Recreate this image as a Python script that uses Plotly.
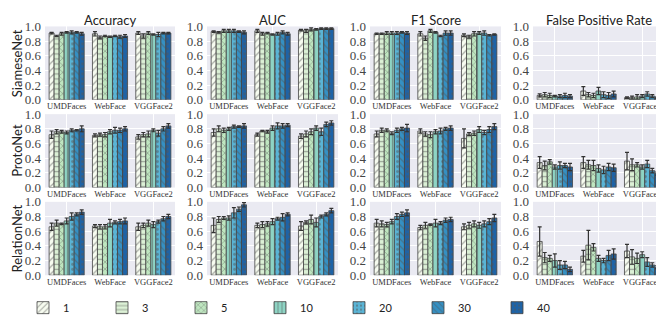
import plotly.graph_objects as go
from plotly.subplots import make_subplots

datasets = ["UMDFaces", "WebFace", "VGGFace2"]
shots = ["1", "3", "5", "10", "20", "30", "40"]
metrics = ["Accuracy", "AUC", "F1 Score", "False Positive Rate"]
models = ["SiameseNet", "ProtoNet", "RelationNet"]

# values[model][metric] -> per shot list of 3 dataset values
siamese_acc = [[0.91, 0.90, 0.91], [0.87, 0.85, 0.87], [0.90, 0.87, 0.91], [0.92, 0.86, 0.89], [0.92, 0.87, 0.89], [0.92, 0.86, 0.91], [0.90, 0.87, 0.91]]
siamese_acc_err = [[0.01, 0.03, 0.02], [0.01, 0.02, 0.03], [0.02, 0.01, 0.02], [0.01, 0.01, 0.01], [0.02, 0.01, 0.03], [0.01, 0.02, 0.01], [0.02, 0.02, 0.01]]
siamese_auc = [[0.93, 0.94, 0.95], [0.92, 0.90, 0.94], [0.94, 0.91, 0.96], [0.94, 0.89, 0.96], [0.94, 0.90, 0.97], [0.93, 0.92, 0.97], [0.92, 0.90, 0.97]]
siamese_auc_err = [[0.01, 0.02, 0.01], [0.01, 0.02, 0.02], [0.02, 0.01, 0.02], [0.02, 0.01, 0.01], [0.02, 0.02, 0.01], [0.01, 0.02, 0.01], [0.02, 0.02, 0.01]]
siamese_f1 = [[0.90, 0.90, 0.88], [0.90, 0.84, 0.86], [0.91, 0.94, 0.90], [0.91, 0.92, 0.91], [0.91, 0.87, 0.91], [0.92, 0.91, 0.88], [0.91, 0.91, 0.89]]
siamese_f1_err = [[0.01, 0.03, 0.02], [0.01, 0.03, 0.02], [0.02, 0.02, 0.03], [0.02, 0.01, 0.02], [0.02, 0.01, 0.03], [0.01, 0.03, 0.01], [0.02, 0.03, 0.01]]
siamese_fpr = [[0.06, 0.12, 0.03], [0.07, 0.07, 0.03], [0.06, 0.06, 0.04], [0.05, 0.12, 0.05], [0.05, 0.07, 0.08], [0.06, 0.06, 0.05], [0.05, 0.08, 0.03]]
siamese_fpr_err = [[0.02, 0.06, 0.01], [0.03, 0.03, 0.02], [0.03, 0.03, 0.03], [0.01, 0.05, 0.02], [0.02, 0.04, 0.03], [0.03, 0.04, 0.02], [0.02, 0.04, 0.01]]

proto_acc = [[0.72, 0.71, 0.69], [0.76, 0.72, 0.72], [0.76, 0.72, 0.73], [0.75, 0.76, 0.78], [0.78, 0.78, 0.74], [0.78, 0.78, 0.80], [0.80, 0.80, 0.84]]
proto_acc_err = [[0.05, 0.02, 0.03], [0.03, 0.02, 0.03], [0.02, 0.03, 0.04], [0.02, 0.03, 0.02], [0.02, 0.04, 0.04], [0.01, 0.03, 0.03], [0.04, 0.03, 0.03]]
proto_auc = [[0.75, 0.72, 0.70], [0.80, 0.77, 0.73], [0.78, 0.76, 0.76], [0.80, 0.81, 0.81], [0.83, 0.84, 0.76], [0.83, 0.84, 0.86], [0.84, 0.85, 0.88]]
proto_auc_err = [[0.05, 0.02, 0.03], [0.04, 0.01, 0.04], [0.03, 0.02, 0.04], [0.02, 0.03, 0.03], [0.02, 0.04, 0.05], [0.01, 0.03, 0.03], [0.03, 0.02, 0.03]]
proto_f1 = [[0.73, 0.77, 0.67], [0.78, 0.73, 0.73], [0.78, 0.72, 0.74], [0.74, 0.76, 0.79], [0.78, 0.77, 0.75], [0.80, 0.80, 0.79], [0.81, 0.81, 0.83]]
proto_f1_err = [[0.04, 0.03, 0.13], [0.03, 0.03, 0.02], [0.02, 0.04, 0.03], [0.02, 0.03, 0.04], [0.03, 0.04, 0.03], [0.02, 0.02, 0.04], [0.05, 0.03, 0.04]]
proto_fpr = [[0.34, 0.34, 0.36], [0.30, 0.31, 0.31], [0.35, 0.30, 0.31], [0.28, 0.26, 0.28], [0.30, 0.24, 0.32], [0.30, 0.28, 0.23], [0.28, 0.27, 0.19]]
proto_fpr_err = [[0.08, 0.08, 0.12], [0.06, 0.06, 0.08], [0.03, 0.07, 0.03], [0.03, 0.05, 0.03], [0.05, 0.05, 0.05], [0.03, 0.05, 0.03], [0.05, 0.05, 0.02]]

relation_acc = [[0.66, 0.67, 0.66], [0.71, 0.66, 0.68], [0.70, 0.66, 0.71], [0.74, 0.71, 0.69], [0.80, 0.72, 0.73], [0.83, 0.73, 0.77], [0.86, 0.74, 0.80]]
relation_acc_err = [[0.05, 0.02, 0.05], [0.04, 0.03, 0.03], [0.01, 0.03, 0.04], [0.04, 0.05, 0.04], [0.05, 0.02, 0.02], [0.02, 0.03, 0.03], [0.03, 0.04, 0.03]]
relation_auc = [[0.68, 0.68, 0.67], [0.76, 0.69, 0.72], [0.78, 0.70, 0.76], [0.78, 0.73, 0.72], [0.85, 0.77, 0.80], [0.90, 0.79, 0.83], [0.96, 0.83, 0.88]]
relation_auc_err = [[0.10, 0.03, 0.06], [0.04, 0.04, 0.02], [0.02, 0.03, 0.06], [0.03, 0.04, 0.06], [0.07, 0.02, 0.02], [0.03, 0.05, 0.02], [0.03, 0.02, 0.03]]
relation_f1 = [[0.71, 0.65, 0.66], [0.70, 0.68, 0.68], [0.69, 0.69, 0.70], [0.73, 0.71, 0.68], [0.80, 0.71, 0.70], [0.83, 0.75, 0.73], [0.85, 0.76, 0.78]]
relation_f1_err = [[0.05, 0.03, 0.04], [0.04, 0.04, 0.04], [0.03, 0.01, 0.04], [0.03, 0.05, 0.04], [0.04, 0.02, 0.04], [0.03, 0.03, 0.04], [0.04, 0.03, 0.05]]
relation_fpr = [[0.46, 0.26, 0.33], [0.24, 0.41, 0.25], [0.23, 0.38, 0.23], [0.20, 0.23, 0.28], [0.14, 0.20, 0.18], [0.14, 0.27, 0.14], [0.08, 0.29, 0.11]]
relation_fpr_err = [[0.20, 0.08, 0.09], [0.07, 0.20, 0.10], [0.04, 0.05, 0.07], [0.09, 0.04, 0.04], [0.06, 0.03, 0.06], [0.05, 0.07, 0.03], [0.03, 0.07, 0.02]]

values = [
    [siamese_acc, siamese_auc, siamese_f1, siamese_fpr],
    [proto_acc, proto_auc, proto_f1, proto_fpr],
    [relation_acc, relation_auc, relation_f1, relation_fpr],
]
errors = [
    [siamese_acc_err, siamese_auc_err, siamese_f1_err, siamese_fpr_err],
    [proto_acc_err, proto_auc_err, proto_f1_err, proto_fpr_err],
    [relation_acc_err, relation_auc_err, relation_f1_err, relation_fpr_err],
]

colors = ["#f7fcf0", "#dcf1d6", "#bfe6c0", "#8ed4c4", "#5ab4d5", "#3590c3", "#1e63a6"]
hatches = ["/", "-", "x", "|", ".", "\\", "."]

W, H = 664, 321
col_px = [(37, 167), (199, 330), (362, 493), (525, 656)]
row_px = [(12, 89), (104, 181), (196, 273)]

serif = "Liberation Serif"
sans = "Lato"

fig = make_subplots(rows=3, cols=4)

for r in range(3):
    for c in range(4):
        for k, s in enumerate(shots):
            fig.add_trace(go.Bar(
                x=datasets, y=values[r][c][k], name=s, legendgroup=s,
                showlegend=(r == 0 and c == 0),
                marker=dict(color=colors[k], line=dict(color="#444444", width=0.8),
                            pattern=dict(shape=hatches[k], fgcolor="#555555", size=5, solidity=0.25)),
                error_y=dict(type="data", array=errors[r][c][k], color="#333333", thickness=1.2, width=2),
            ), row=r + 1, col=c + 1)
        fig.update_xaxes(domain=[col_px[c][0] / W, col_px[c][1] / W], row=r + 1, col=c + 1)
        fig.update_yaxes(domain=[1 - row_px[r][1] / H, 1 - row_px[r][0] / H], row=r + 1, col=c + 1)

fig.update_xaxes(showgrid=True, gridcolor="white", gridwidth=1, zeroline=False, ticks="",
                 tickfont=dict(family=serif, size=8.5, color="#333333"), ticklabelstandoff=0)
fig.update_yaxes(range=[0, 1.0], tickvals=[0, 0.2, 0.4, 0.6, 0.8, 1.0], tickformat=".1f",
                 showgrid=True, gridcolor="white", gridwidth=1, zeroline=False, ticks="",
                 tickfont=dict(family=serif, size=13, color="#444444"), ticklabelstandoff=3)

# column titles and row labels
for c, m in enumerate(metrics):
    fig.add_annotation(x=(col_px[c][0] + col_px[c][1]) / 2 / W, y=1 - 5 / H, xref="paper", yref="paper",
                       xanchor="center", yanchor="middle",
                       text=m, showarrow=False, font=dict(family=sans, size=13, color="#222222"))
for r, m in enumerate(models):
    fig.add_annotation(x=9 / W, y=1 - (row_px[r][0] + row_px[r][1]) / 2 / H, xref="paper", yref="paper",
                       xanchor="center", yanchor="middle",
                       text=m, textangle=-90, showarrow=False, font=dict(family=sans, size=13, color="#222222"))

fig.update_layout(
    width=W, height=H, margin=dict(l=0, r=0, t=0, b=0),
    paper_bgcolor="white", plot_bgcolor="#eaeaf2",
    barmode="group", bargap=0.19, bargroupgap=0,
    legend=dict(orientation="h", x=15 / W, y=1 - 307 / H, yanchor="middle", xanchor="left",
                entrywidth=34, font=dict(family=sans, size=11, color="#222222")),
)

fig.write_html("out.html")
